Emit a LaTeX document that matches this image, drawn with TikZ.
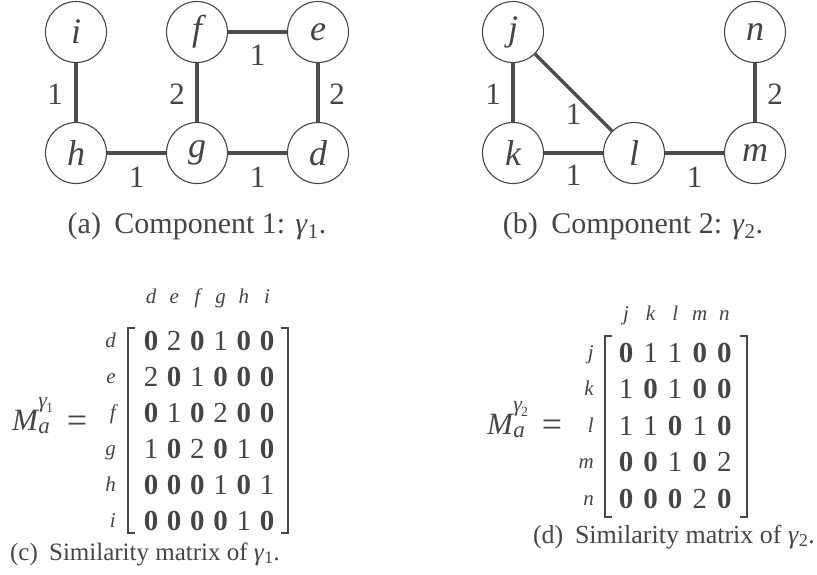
\documentclass[tikz,border=0pt]{standalone}
\usepackage{fontspec}
\setmainfont{Liberation Serif}
\definecolor{ink}{HTML}{454545}
\definecolor{edgec}{HTML}{4D4D4D}
\newcommand{\cellv}[1]{\ifnum#1=0 \textbf{0}\else#1\fi}
\newcommand{\mlab}[1]{\textit{M}\kern-1pt\makebox[0pt][l]{\raisebox{-3pt}{\fontsize{23}{23}\selectfont\itshape a}}\raisebox{23pt}{\fontsize{22}{22}\selectfont\itshape γ\kern-1pt\raisebox{-5pt}{\fontsize{14}{14}\selectfont\upshape #1}}}
\tikzset{
 vtx/.style={circle, draw=ink, line width=1.1pt, minimum size=61pt, inner sep=0pt, font=\fontsize{36}{36}\selectfont\itshape, text=ink},
 edge/.style={draw=edgec, line width=3.3pt},
 elab/.style={font=\fontsize{31}{31}\selectfont, text=ink, inner sep=0pt},
 captxt/.style={font=\fontsize{25}{25}\selectfont, text=ink, inner sep=0pt, anchor=base},
 bigcap/.style={captxt, font=\fontsize{30}{30}\selectfont},
 ent/.style={font=\fontsize{29}{29}\selectfont, text=ink, inner sep=0pt, anchor=base},
 hdr/.style={font=\fontsize{21}{21}\selectfont\itshape, text=ink, inner sep=0pt, anchor=base},
 mathlab/.style={font=\fontsize{31}{31}\selectfont, text=ink, inner sep=0pt},
 eqs/.style={font=\fontsize{36}{36}\selectfont, text=ink, inner sep=0pt},
 brk/.style={draw=ink, line width=2pt},
}
\begin{document}
\begin{tikzpicture}[x=1pt,y=-1pt]
\useasboundingbox (0,0) rectangle (817,574);
% ---- component 1
\node[vtx] (i) at (76,32) {i};
\node[vtx] (f) at (197,32) {f};
\node[vtx] (e) at (318,32) {e};
\node[vtx] (h) at (76,153) {h};
\node[vtx] (g) at (197,153) {g};
\node[vtx] (d) at (318,153) {d};
\draw[edge] (i) -- node[elab, xshift=-21pt, yshift=-2pt] {1} (h);
\draw[edge] (f) -- node[elab, xshift=-20pt, yshift=-2pt] {2} (g);
\draw[edge] (e) -- node[elab, xshift=19pt, yshift=-2pt] {2} (d);
\draw[edge] (f) -- node[elab, yshift=-23pt] {1} (e);
\draw[edge] (h) -- node[elab, yshift=-24pt] {1} (g);
\draw[edge] (g) -- node[elab, yshift=-24pt] {1} (d);
\node[bigcap] (capa) at (197,233) {(a)\hspace{0.45em}Component 1: \textit{γ}\textsubscript{1}.};
% ---- component 2
\node[vtx] (j) at (513,32) {j};
\node[vtx] (n) at (755,32) {n};
\node[vtx] (k) at (513,153) {k};
\node[vtx] (l) at (634,153) {l};
\node[vtx] (m) at (755,153) {m};
\draw[edge] (j) -- node[elab, xshift=-20pt, yshift=-2pt] {1} (k);
\draw[edge] (j) -- node[elab, yshift=-22pt] {1} (l);
\draw[edge] (k) -- node[elab, yshift=-22pt] {1} (l);
\draw[edge] (l) -- node[elab, yshift=-24pt] {1} (m);
\draw[edge] (n) -- node[elab, xshift=20pt, yshift=-2pt] {2} (m);
\node[bigcap] (capb) at (633,233) {(b)\hspace{0.45em}Component 2: \textit{γ}\textsubscript{2}.};
% ---- matrix 1
\node[mathlab, anchor=base west] (m1lab) at (12,430) {\mlab{1}};
\node[eqs, anchor=base] (m1eq) at (77,432) {=};
\foreach \lbl [count=\c from 0] in {d,e,f,g,h,i}
  \node[hdr] (ah-\c) at ({151+23.2*\c},303) {\lbl};
\foreach \lbl [count=\r from 0] in {d,e,f,g,h,i}
  \node[hdr, anchor=base east] (ar-\r) at (116,{347+36*\r}) {\lbl};
\foreach \rowv [count=\r from 0] in {{0,2,0,1,0,0},{2,0,1,0,0,0},{0,1,0,2,0,0},{1,0,2,0,1,0},{0,0,0,1,0,1},{0,0,0,0,1,0}}
  \foreach \v [count=\c from 0] in \rowv
    \node[ent] (a-\r-\c) at ({151+23.2*\c},{350+36*\r}) {\cellv{\v}};
\draw[brk] (135,328) -- (128,328) -- (128,533) -- (135,533);
\draw[brk] (281,328) -- (288,328) -- (288,533) -- (281,533);
\node[captxt] (capc) at (145,560) {(c)\hspace{0.45em}Similarity matrix of \textit{γ}\textsubscript{1}.};
% ---- matrix 2
\node[mathlab, anchor=base west] (m2lab) at (487,434) {\mlab{2}};
\node[eqs, anchor=base] (m2eq) at (552,436) {=};
\foreach \lbl [count=\c from 0] in {j,k,l,m,n}
  \node[hdr] (bh-\c) at ({626+24.6*\c},320) {\lbl};
\foreach \lbl [count=\r from 0] in {j,k,l,m,n}
  \node[hdr, anchor=base east] (br-\r) at (594,{359+36.5*\r}) {\lbl};
\foreach \rowv [count=\r from 0] in {{0,1,1,0,0},{1,0,1,0,0},{1,1,0,1,0},{0,0,1,0,2},{0,0,0,2,0}}
  \foreach \v [count=\c from 0] in \rowv
    \node[ent] (b-\r-\c) at ({626+24.6*\c},{362+36.5*\r}) {\cellv{\v}};
\draw[brk] (612,336) -- (605,336) -- (605,517) -- (612,517);
\draw[brk] (740,336) -- (747,336) -- (747,517) -- (740,517);
\node[captxt, font=\fontsize{26}{26}\selectfont] (capd) at (674,543) {(d)\hspace{0.45em}Similarity matrix of \textit{γ}\textsubscript{2}.};
\end{tikzpicture}
\end{document}
